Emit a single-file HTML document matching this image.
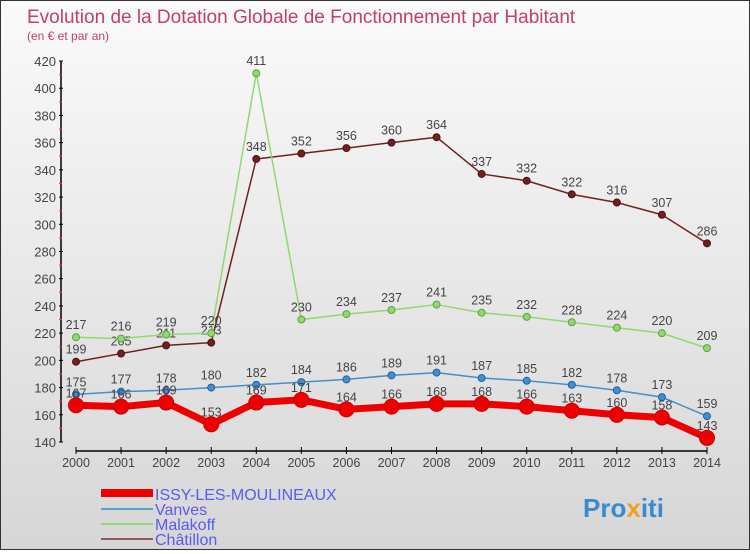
<!DOCTYPE html>
<html><head><meta charset="utf-8"><style>
body{margin:0;width:750px;height:550px;overflow:hidden;font-family:"Liberation Sans","DejaVu Sans",sans-serif}
#wrap{position:relative;width:748px;height:548px;border:1px solid #333;background:linear-gradient(#fafafa,#d6d6d6)}
</style></head><body>
<div id="wrap">
<svg id="chart" width="748" height="548">
<text x="26" y="22" font-size="19" fill="#c0406a">Evolution de la Dotation Globale de Fonctionnement par Habitant</text>
<text x="26" y="39" font-size="12" fill="#c0406a">(en € et par an)</text>
<g id="axes"></g><g id="series"></g>
<g>
<line x1="100" y1="492" x2="152" y2="492" stroke="#e00" stroke-width="8"/>
<text x="154" y="499" font-size="16" fill="#5a5aee">ISSY-LES-MOULINEAUX</text>
<line x1="100" y1="508" x2="152" y2="508" stroke="#5a9ed0" stroke-width="2"/>
<text x="154" y="514" font-size="16" fill="#5a5aee">Vanves</text>
<line x1="100" y1="523" x2="152" y2="523" stroke="#90d870" stroke-width="2"/>
<text x="154" y="529" font-size="16" fill="#5a5aee">Malakoff</text>
<line x1="100" y1="538" x2="152" y2="538" stroke="#905858" stroke-width="2"/>
<text x="154" y="544" font-size="16" fill="#5a5aee">Châtillon</text>
</g>
<text x="582" y="516" font-size="26" font-weight="bold" fill="#3a8ad0">Pro<tspan fill="#f0a020">x</tspan>iti</text>
</svg></div>
<script>
const years=[2000,2001,2002,2003,2004,2005,2006,2007,2008,2009,2010,2011,2012,2013,2014];
const yTicks=[140,160,180,200,220,240,260,280,300,320,340,360,380,400,420];
const issy=[167,166,169,153,169,171,164,166,168,168,166,163,160,158,143];
const vanves=[175,177,178,180,182,184,186,189,191,187,185,182,178,173,159];
const malakoff=[217,216,219,220,411,230,234,237,241,235,232,228,224,220,209];
const chatillon=[199,205,211,213,348,352,356,360,364,337,332,322,316,307,286];
const NS="http://www.w3.org/2000/svg";
const xs=i=>75+i*(706-75)/14;
const ys=v=>60+(420-v)*(381/280);
function mk(t,a,p){const e=document.createElementNS(NS,t);for(const k in a)e.setAttribute(k,a[k]);p.appendChild(e);return e;}
const ax=document.getElementById('axes');
let yl=mk('line',{x1:60,y1:60,x2:60,y2:441,stroke:'#000','stroke-width':1.5},ax);


yTicks.forEach(v=>{
 mk('line',{x1:58,x2:62,y1:ys(v),y2:ys(v),stroke:'#000'},ax);
 if(v<420)mk('line',{x1:58,x2:61,y1:ys(v+10),y2:ys(v+10),stroke:'#f33'},ax);
 const t=mk('text',{x:55,y:ys(v)+5,'text-anchor':'end','font-size':13,fill:'#444'},ax);t.textContent=v;
 
 
});
let xl=mk('line',{x1:75,y1:450,x2:706,y2:450,stroke:'#000','stroke-width':1.5},ax);


years.forEach((y,i)=>{
 mk('line',{x1:xs(i),x2:xs(i),y1:446,y2:453,stroke:'#000'},ax);
 const t=mk('text',{x:xs(i),y:466,'text-anchor':'middle','font-size':12.5,fill:'#444'},ax);t.textContent=y;
 
 
});
const sg=document.getElementById('series');
function series(name,data,color,w,r,dark){
 const g=mk('g',{},sg);
 
 
 const pl=mk('polyline',{points:data.map((v,i)=>xs(i)+','+ys(v)).join(' '),fill:'none',stroke:color,'stroke-width':w,'stroke-linejoin':'round'},g);
 
 
 data.forEach((v,i)=>{
  const c=mk('circle',{cx:xs(i),cy:ys(v),r:r,fill:color,stroke:dark,'stroke-width':1},g);
  
  
  const t=mk('text',{x:xs(i),y:ys(v)-8,'text-anchor':'middle','font-size':12.5,fill:'#444'},g);t.textContent=v;
  
  
 });
}
series('chatillon',chatillon,'#702020',1.5,3.5,'#501010');
series('malakoff',malakoff,'#90d870',1.5,3.5,'#60a040');
series('vanves',vanves,'#4090d0',1.5,3.5,'#2060a0');
series('issy',issy,'#ee0000',7,7.5,'#cc0000');
</script>
</body></html>
